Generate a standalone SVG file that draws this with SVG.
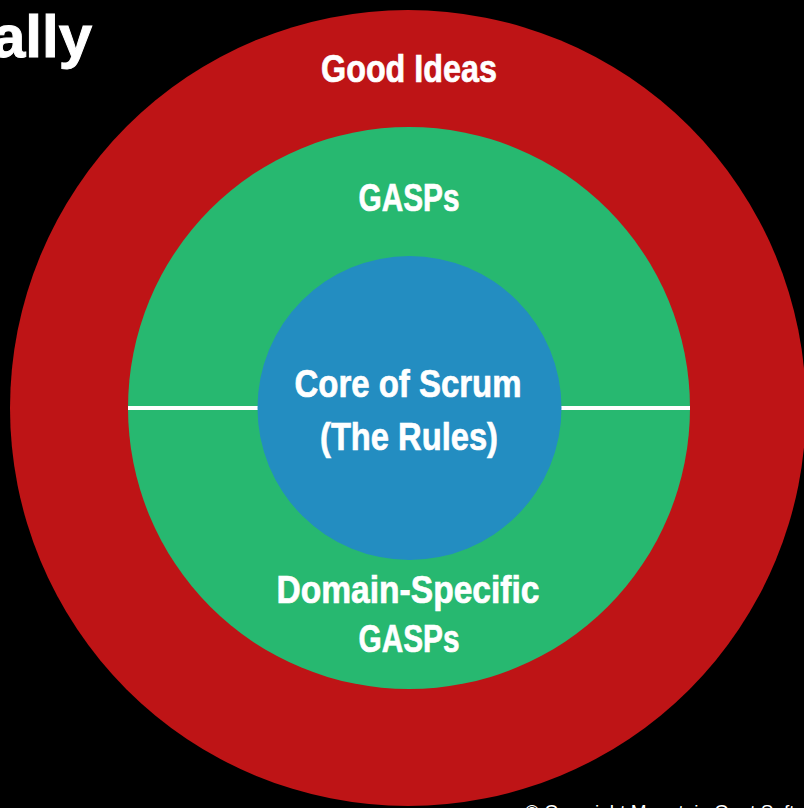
<svg xmlns="http://www.w3.org/2000/svg" width="804" height="808" viewBox="0 0 804 808">
<style>
.lbl{font-family:"Liberation Sans Narrow","Liberation Sans",Arial,sans-serif;font-weight:bold;fill:#fff;stroke:#fff;stroke-width:0.7;text-anchor:middle}
.big{font-size:39px}
</style>
<rect width="804" height="808" fill="#000"/>
<text class="lbl" x="92" y="57" font-size="60" style="text-anchor:end;stroke-width:1">ally</text>
<g id="good-ideas">
<circle cx="408" cy="408" r="398" fill="#BE1416"/>
<text class="lbl big" x="409" y="82" textLength="176" lengthAdjust="spacingAndGlyphs">Good Ideas</text>
</g>
<g id="gasps">
<circle cx="409" cy="408" r="281" fill="#27B870"/>
<text class="lbl big" x="409" y="211" textLength="101" lengthAdjust="spacingAndGlyphs">GASPs</text>
</g>
<g id="domain-gasps">
<text class="lbl big" x="408" y="603" textLength="263" lengthAdjust="spacingAndGlyphs">Domain-Specific</text>
<text class="lbl big" x="409" y="652" textLength="101" lengthAdjust="spacingAndGlyphs">GASPs</text>
</g>
<g id="connectors">
<line x1="128" y1="408" x2="260" y2="408" stroke="#fff" stroke-width="4"/>
<line x1="558" y1="408" x2="690" y2="408" stroke="#fff" stroke-width="4"/>
</g>
<g id="core">
<circle cx="409.5" cy="408" r="152" fill="#238DC1"/>
<text class="lbl big" x="408" y="397" textLength="227" lengthAdjust="spacingAndGlyphs">Core of Scrum</text>
<text class="lbl big" x="409" y="450" textLength="178" lengthAdjust="spacingAndGlyphs">(The Rules)</text>
</g>
<text x="525" y="818" font-family="Liberation Sans, Arial, sans-serif" font-size="19" fill="#fff">© Copyright Mountain Goat Software</text>
</svg>
